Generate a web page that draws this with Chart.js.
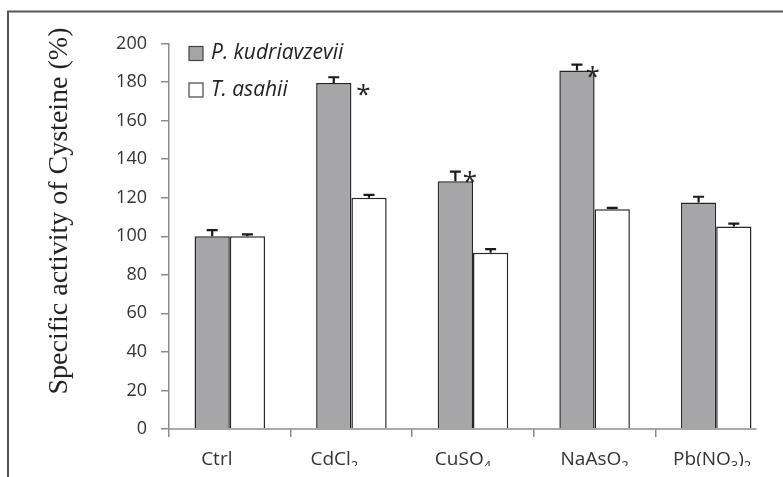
<!DOCTYPE html>
<html>
<head>
<meta charset="utf-8">
<script src="https://cdn.jsdelivr.net/npm/chart.js@4"></script>
<style>
    html, body { margin: 0; padding: 0; background: #fff; overflow: hidden; }
    #wrap { width: 783px; height: 477px; }
</style>
</head>
<body>
<div id="wrap"><canvas id="cysChart" width="783" height="477"></canvas></div>
<script>
const categories = ['Ctrl', 'CdCl₂', 'CuSO₄', 'NaAsO₂', 'Pb(NO₃)₂'];
const seriesNames = ['P. kudriavzevii', 'T. asahii'];
const kudriavzevii = [100, 179.5, 128.5, 186, 117.5];
const kudriavzeviiErr = [3.2, 3, 5, 3, 3];
const asahii = [100, 120, 91.5, 114, 105];
const asahiiErr = [1, 1.5, 1.8, 0.7, 1.6];
const significant = [false, true, true, true, false];
const yMin = 0, yMax = 200, yStep = 20;
const yTitle = 'Specific activity of Cysteine (%)';

const errors = [kudriavzeviiErr, asahiiErr];
const fills = ['#a6a6a8', '#ffffff'];
const ink = '#262626';
const subs = { '₀': '0', '₁': '1', '₂': '2', '₃': '3', '₄': '4' };

// splits 'CdCl₂' into runs of normal / subscript text
function runs(label) {
    const out = [];
    for (const ch of label) {
        const sub = ch in subs;
        const t = sub ? subs[ch] : ch;
        if (out.length && out[out.length - 1].sub === sub) out[out.length - 1].text += t;
        else out.push({ text: t, sub });
    }
    return out;
}

// category labels with real subscripts (figure is cropped just under the baseline)
const xLabels = {
    id: 'xLabels',
    afterDraw(chart) {
        const ctx = chart.ctx;
        const x = chart.scales.x;
        const nudge = [-13, -17, -10, 0, -4];
        const base = 465;
        ctx.save();
        ctx.beginPath();
        ctx.rect(0, 440, chart.width, base + 1 - 440);
        ctx.clip();
        ctx.fillStyle = '#333';
        ctx.textBaseline = 'alphabetic';
        ctx.textAlign = 'left';
        categories.forEach((label, i) => {
            const parts = runs(label);
            const fontFor = p => p.sub ? '13px "Open Sans"' : '19px "Open Sans"';
            let w = 0;
            parts.forEach(p => { ctx.font = fontFor(p); w += ctx.measureText(p.text).width; });
            let cx = x.getPixelForValue(i) + nudge[i] - w / 2;
            parts.forEach(p => {
                ctx.font = fontFor(p);
                ctx.fillText(p.text, cx, p.sub ? base + 5 : base);
                cx += ctx.measureText(p.text).width;
            });
        });
        ctx.restore();
    }
};

// frame, axis title, legend, error bars, asterisks and the cropped x axis line
const extras = {
    id: 'extras',
    afterDraw(chart) {
        const ctx = chart.ctx;
        const area = chart.chartArea;
        const y = chart.scales.y;

        ctx.save();
        ctx.strokeStyle = '#555';
        ctx.lineWidth = 2;
        ctx.beginPath();
        ctx.moveTo(8, 477);
        ctx.lineTo(8, 11.5);
        ctx.lineTo(783, 11.5);
        ctx.stroke();

        // x axis line, ends just after the last bar
        const last = chart.getDatasetMeta(1).data[categories.length - 1];
        ctx.strokeStyle = '#8c8c8c';
        ctx.lineWidth = 1.5;
        ctx.beginPath();
        ctx.moveTo(area.left, area.bottom);
        ctx.lineTo(last.x + last.width / 2 + 5, area.bottom);
        ctx.stroke();

        // error bars (upper only)
        ctx.strokeStyle = '#1a1a1a';
        ctx.lineWidth = 2.2;
        chart.data.datasets.forEach((ds, di) => {
            chart.getDatasetMeta(di).data.forEach((bar, i) => {
                const top = y.getPixelForValue(ds.data[i] + errors[di][i]);
                ctx.beginPath();
                ctx.moveTo(bar.x, bar.y);
                ctx.lineTo(bar.x, top);
                ctx.moveTo(bar.x - 5.5, top);
                ctx.lineTo(bar.x + 5.5, top);
                ctx.stroke();
            });
        });

        // significance stars next to the P. kudriavzevii bars
        const starDx = [0, 12, -3, -2, 0];
        const starDy = [0, 7, -4, 2, 0];
        ctx.fillStyle = '#222';
        ctx.font = '26px "Open Sans"';
        ctx.textAlign = 'center';
        ctx.textBaseline = 'alphabetic';
        const m = ctx.measureText('*');
        const mid = (m.actualBoundingBoxAscent - m.actualBoundingBoxDescent) / 2;
        chart.getDatasetMeta(0).data.forEach((bar, i) => {
            if (!significant[i]) return;
            ctx.fillText('*', bar.x + bar.width / 2 + starDx[i], bar.y + starDy[i] + mid);
        });

        // legend inside the plot, top left
        ctx.font = 'italic 21px "Open Sans"';
        ctx.textAlign = 'left';
        ctx.textBaseline = 'middle';
        seriesNames.forEach((name, i) => {
            const cy = area.top + 10 + i * 36.5;
            ctx.fillStyle = fills[i];
            ctx.fillRect(area.left + 20, cy - 7, 14, 14);
            ctx.strokeStyle = '#444';
            ctx.lineWidth = 1.2;
            ctx.strokeRect(area.left + 20, cy - 7, 14, 14);
            ctx.fillStyle = '#222';
            ctx.fillText(name, area.left + 42, cy);
        });

        // y axis title, serif
        ctx.translate(60, 211);
        ctx.rotate(-Math.PI / 2);
        ctx.font = '28px "Liberation Serif"';
        ctx.textAlign = 'center';
        ctx.fillStyle = '#222';
        ctx.fillText(yTitle, 0, 0);
        ctx.restore();
    }
};

new Chart(document.getElementById('cysChart'), {
    type: 'bar',
    data: {
        labels: categories,
        datasets: [
            { label: seriesNames[0], data: kudriavzevii, backgroundColor: fills[0], borderColor: ink, borderWidth: 1.5 },
            { label: seriesNames[1], data: asahii, backgroundColor: fills[1], borderColor: ink, borderWidth: 1.5 }
        ]
    },
    options: {
        responsive: false,
        animation: false,
        layout: { padding: { left: 0, top: 43.5, right: 6, bottom: 0 } },
        datasets: { bar: { categoryPercentage: 0.58, barPercentage: 1.0 } },
        scales: {
            x: {
                ticks: { display: false },
                grid: {
                    offset: true,
                    drawOnChartArea: false,
                    tickLength: 8,
                    lineWidth: 1.5,
                    color: ctx => ctx.index < categories.length ? '#8c8c8c' : 'rgba(0,0,0,0)'
                },
                border: { display: false },
                afterFit: s => { s.height = 48; }
            },
            y: {
                min: yMin,
                max: yMax,
                ticks: { stepSize: yStep, color: '#333', font: { family: 'Open Sans', size: 18 }, padding: 14 },
                grid: { drawOnChartArea: false, tickLength: 8, lineWidth: 1.5, color: '#8c8c8c' },
                border: { display: true, color: '#8c8c8c', width: 1.5 },
                afterFit: s => { s.width = 169; }
            }
        },
        plugins: {
            legend: { display: false },
            tooltip: { enabled: false }
        }
    },
    plugins: [xLabels, extras]
});
</script>
</body>
</html>
